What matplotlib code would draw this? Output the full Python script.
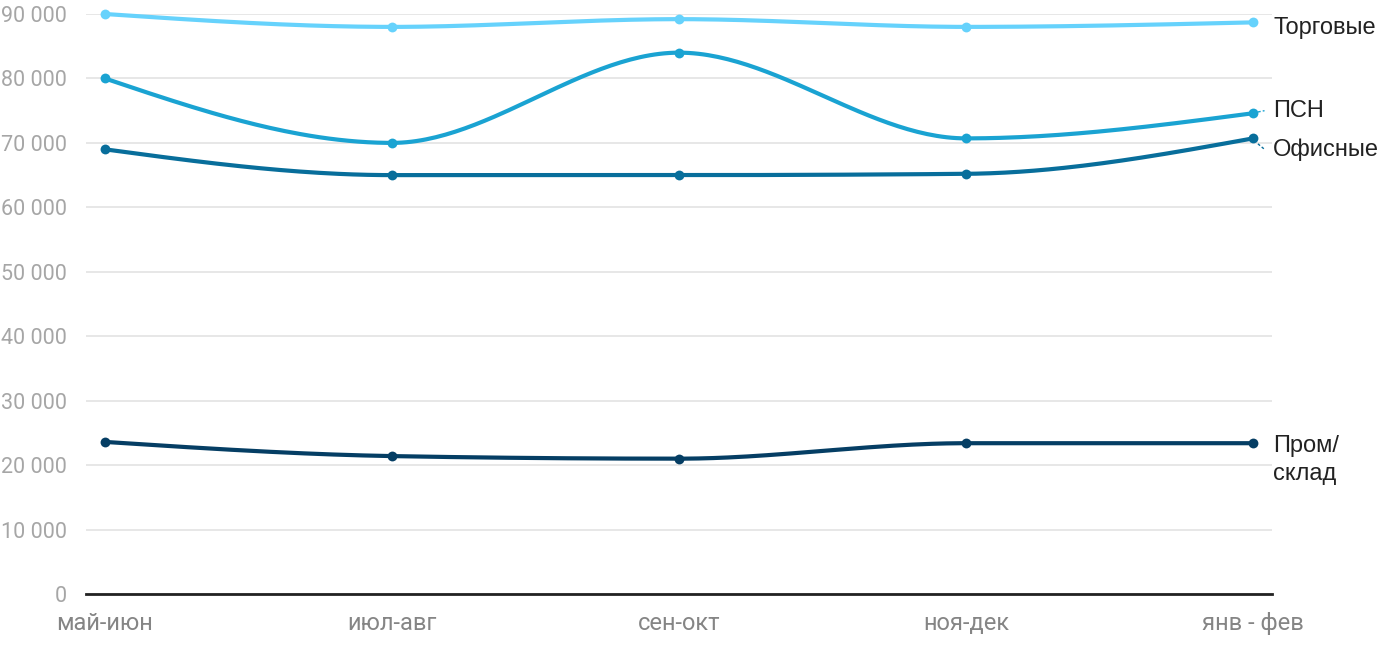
import numpy as np
import matplotlib.pyplot as plt

# periods and values (rubles per sq.m)
periods = ['май-июн', 'июл-авг', 'сен-окт', 'ноя-дек', 'янв - фев']
trade = [90000, 88000, 89200, 88000, 88700]
psn = [80000, 70000, 84000, 70700, 74600]
office = [69000, 65000, 65000, 65200, 70700]
warehouse = [23600, 21400, 21000, 23400, 23400]

series_names = ['Торговые', 'ПСН', 'Офисные', 'Пром/\nсклад']
series_values = [trade, psn, office, warehouse]
series_colors = ['#66d2fc', '#1aa3d2', '#086e9b', '#053e64']
# label y positions (data units) where labels were nudged apart
label_y = [87800, 75000, 69000, 23400]


def monotone_slopes(x, y):
    # same tangents as d3.curveMonotoneX
    x = np.asarray(x, float)
    y = np.asarray(y, float)
    n = len(x)
    t = np.zeros(n)
    for i in range(1, n - 1):
        h0, h1 = x[i] - x[i - 1], x[i + 1] - x[i]
        s0, s1 = (y[i] - y[i - 1]) / h0, (y[i + 1] - y[i]) / h1
        p = (s0 * h1 + s1 * h0) / (h0 + h1)
        t[i] = (np.sign(s0) + np.sign(s1)) * min(abs(s0), abs(s1), 0.5 * abs(p))
    h = x[1] - x[0]
    t[0] = (3 * (y[1] - y[0]) / h - t[1]) / 2
    h = x[-1] - x[-2]
    t[-1] = (3 * (y[-1] - y[-2]) / h - t[-2]) / 2
    return t


def monotone_curve(x, y, steps=60):
    x = np.asarray(x, float)
    y = np.asarray(y, float)
    t = monotone_slopes(x, y)
    xs, ys = [], []
    for i in range(len(x) - 1):
        h = x[i + 1] - x[i]
        u = np.linspace(0, 1, steps)
        h00 = 2 * u**3 - 3 * u**2 + 1
        h10 = u**3 - 2 * u**2 + u
        h01 = -2 * u**3 + 3 * u**2
        h11 = u**3 - u**2
        xs.append(x[i] + u * h)
        ys.append(h00 * y[i] + h10 * h * t[i] + h01 * y[i + 1] + h11 * h * t[i + 1])
    return np.concatenate(xs), np.concatenate(ys)


plt.rcParams['font.family'] = ['Roboto', 'DejaVu Sans']

fig = plt.figure(figsize=(14, 6.5), dpi=100)
ax = fig.add_axes([86 / 1400, 1 - 594 / 650, (1272 - 86) / 1400, (594 - 14) / 650])

xpos = np.arange(len(periods))
for name, vals, col, ly in zip(series_names, series_values, series_colors, label_y):
    cx, cy = monotone_curve(xpos, vals)
    ax.plot(cx, cy, color=col, lw=3, solid_capstyle='round', clip_on=False, zorder=3)
    ax.scatter(xpos, vals, s=50, color=col, zorder=4, clip_on=False, linewidths=0)
    two_lines = '\n' in name
    ax.annotate(name, xy=(xpos[-1], ly + 1300 if two_lines else ly), xycoords='data',
                xytext=(20, 0), textcoords='offset pixels',
                ha='left', va='top' if two_lines else 'center', fontsize=17, color='#222222',
                family=['Liberation Sans', 'DejaVu Sans'], linespacing=1.35)

# short connectors for nudged labels
for vals, col, ly in [(psn, series_colors[1], label_y[1]), (office, series_colors[2], label_y[2])]:
    ax.plot([xpos[-1] + 0.017, xpos[-1] + 0.04], [vals[-1] + (ly - vals[-1]) * 0.5, ly],
            color=col, lw=1, ls=(0, (2, 1.5)), clip_on=False)

ax.set_xlim(-0.066, 4.066)
ax.set_ylim(0, 90000)
ax.set_yticks(np.arange(0, 90001, 10000))
ax.set_yticklabels(['0' if v == 0 else f'{v // 1000} 000' for v in range(0, 90001, 10000)])
ax.set_xticks(xpos)
ax.set_xticklabels(periods)

ax.grid(axis='y', color='#e3e3e3', lw=1.2)
ax.set_axisbelow(True)
for side in ['top', 'right', 'left']:
    ax.spines[side].set_visible(False)
ax.spines['bottom'].set_color('#222222')
ax.spines['bottom'].set_linewidth(2)
ax.spines['bottom'].set_zorder(5)

ax.tick_params(axis='y', length=0, pad=14, labelsize=15.5, labelcolor='#a6a6a6')
ax.tick_params(axis='x', length=0, pad=13, labelsize=17, labelcolor='#858585')

fig.savefig('out.png', dpi=100, facecolor='white')
